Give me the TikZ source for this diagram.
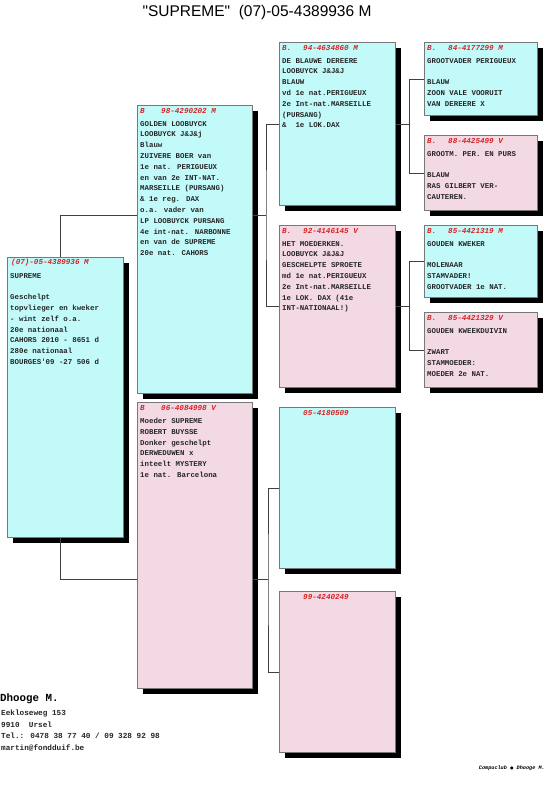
\documentclass[tikz,border=0pt]{standalone}
\usepackage{fontspec}
\usetikzlibrary{shadows}
\newfontfamily\monof{Liberation Mono}
\newfontfamily\sansf{Liberation Sans}
\newfontfamily\djv{DejaVu Sans}
\definecolor{cyanfill}{RGB}{194,250,250}
\definecolor{pinkfill}{RGB}{243,217,228}
\definecolor{hdrred}{RGB}{215,35,35}
\definecolor{bordergray}{RGB}{120,120,120}
\tikzset{
  pbox/.style={draw=bordergray, line width=0.8pt, anchor=north west, inner sep=0pt,
    drop shadow={shadow xshift=6pt, shadow yshift=-6pt, fill=black, opacity=1}},
  cbox/.style={pbox, fill=cyanfill},
  kbox/.style={pbox, fill=pinkfill},
  hdr/.style={anchor=west, inner sep=0pt, text=hdrred,
    font=\monof\bfseries\itshape\fontsize{7.6}{9}\selectfont},
  body/.style={anchor=north west, align=left, inner sep=0pt, text=black!85,
    font=\monof\bfseries\fontsize{7.4}{10.8}\selectfont},
  conn/.style={draw=black!75, line width=0.7pt},
}
\newcommand\bmark[1]{\makebox[21pt][l]{#1}}
\begin{document}
\begin{tikzpicture}[x=1pt,y=-1pt]
\useasboundingbox (0,0) rectangle (547,786);
\fill[white] (0,0) rectangle (547,786);

% title
\node[font=\sansf\fontsize{15.5}{18}\selectfont, inner sep=0pt] (title) at (257,12) {"SUPREME"\ \ (07)-05-4389936 M};

% boxes
\node[cbox, minimum width=116pt, minimum height=280pt] (root) at (7,257) {};
\node[cbox, minimum width=115pt, minimum height=288pt] (b98) at (137,105) {};
\node[kbox, minimum width=115pt, minimum height=286pt] (b06) at (137,402) {};
\node[cbox, minimum width=116pt, minimum height=163pt] (b94) at (279,42) {};
\node[kbox, minimum width=116pt, minimum height=162pt] (b92) at (279,225) {};
\node[cbox, minimum width=116pt, minimum height=161pt] (b05) at (279,407) {};
\node[kbox, minimum width=116pt, minimum height=161pt] (b99) at (279,591) {};
\node[cbox, minimum width=113pt, minimum height=73pt] (b84) at (424,42) {};
\node[kbox, minimum width=113pt, minimum height=75pt] (b88) at (424,135) {};
\node[cbox, minimum width=113pt, minimum height=72pt] (b85a) at (424,225) {};
\node[kbox, minimum width=113pt, minimum height=75pt] (b85b) at (424,312) {};

% connectors
\coordinate (j1) at (60,215);
\coordinate (j2) at (60,579);
\coordinate (j3) at (266,215);
\coordinate (j4) at (268,579);
\coordinate (j5) at ([xshift=14pt]b94.east);
\coordinate (j6) at ([xshift=14pt]b92.east);
\draw[conn] (root.north -| j1) |- (b98.west |- j1);
\draw[conn] (root.south -| j2) |- (b06.west |- j2);
\draw[conn] (b98.east |- j3) -- (j3);
\draw[conn] (b94.west) -| (j3) |- (b92.west);
\draw[conn] (b06.east |- j4) -- (j4);
\draw[conn] (b05.west) -| (j4) |- (b99.west);
\draw[conn] (b94.east) -- (j5);
\draw[conn] (b84.west) -| (j5) |- (b88.west);
\draw[conn] (b92.east) -- (j6);
\draw[conn] (b85a.west) -| (j6) |- (b85b.west);

% headers
\node[hdr] (hroot) at ([xshift=4pt,yshift=-6pt]root.north west) {(07)-05-4389936 M};
\node[hdr] (h98) at ([xshift=3pt,yshift=-6pt]b98.north west) {\bmark{B}98-4290202 M};
\node[hdr] (h06) at ([xshift=3pt,yshift=-6pt]b06.north west) {\bmark{B}06-4084998 V};
\node[hdr] (h94) at ([xshift=3pt,yshift=-6pt]b94.north west) {\bmark{B.}94-4634860 M};
\node[hdr] (h92) at ([xshift=3pt,yshift=-6pt]b92.north west) {\bmark{B.}92-4146145 V};
\node[hdr] (h05) at ([xshift=3pt,yshift=-6pt]b05.north west) {\bmark{}05-4180509};
\node[hdr] (h99) at ([xshift=3pt,yshift=-6pt]b99.north west) {\bmark{}99-4240249};
\node[hdr] (h84) at ([xshift=3pt,yshift=-6pt]b84.north west) {\bmark{B.}84-4177299 M};
\node[hdr] (h88) at ([xshift=3pt,yshift=-6pt]b88.north west) {\bmark{B.}88-4425499 V};
\node[hdr] (h85a) at ([xshift=3pt,yshift=-6pt]b85a.north west) {\bmark{B.}85-4421319 M};
\node[hdr] (h85b) at ([xshift=3pt,yshift=-6pt]b85b.north west) {\bmark{B.}85-4421329 V};

% bodies
\node[body] (troot) at ([xshift=3pt,yshift=-16pt]root.north west) {SUPREME\\[10.8pt]Geschelpt\\topvlieger en kweker\\- wint zelf o.a.\\20e nationaal\\CAHORS 2010 - 8651 d\\280e nationaal\\BOURGES'09 -27 506 d};
\node[body] (t98) at ([xshift=3pt,yshift=-16pt]b98.north west) {GOLDEN LOOBUYCK\\LOOBUYCK J\&J\&j\\Blauw\\ZUIVERE BOER van\\1e nat. PERIGUEUX\\en van 2e INT-NAT.\\MARSEILLE (PURSANG)\\\& 1e reg. DAX\\o.a. vader van\\LP LOOBUYCK PURSANG\\4e int-nat. NARBONNE\\en van de SUPREME\\20e nat. CAHORS};
\node[body] (t06) at ([xshift=3pt,yshift=-16pt]b06.north west) {Moeder SUPREME\\ROBERT BUYSSE\\Donker geschelpt\\DERWEDUWEN x\\inteelt MYSTERY\\1e nat. Barcelona};
\node[body] (t94) at ([xshift=3pt,yshift=-16pt]b94.north west) {DE BLAUWE DEREERE\\LOOBUYCK J\&J\&J\\BLAUW\\vd 1e nat.PERIGUEUX\\2e Int-nat.MARSEILLE\\(PURSANG)\\\&~~1e LOK.DAX};
\node[body] (t92) at ([xshift=3pt,yshift=-16pt]b92.north west) {HET MOEDERKEN.\\LOOBUYCK J\&J\&J\\GESCHELPTE SPROETE\\md 1e nat.PERIGUEUX\\2e Int-nat.MARSEILLE\\1e LOK. DAX (41e\\INT-NATIONAAL!)};
\node[body] (t84) at ([xshift=3pt,yshift=-16pt]b84.north west) {GROOTVADER PERIGUEUX\\[10.8pt]BLAUW\\ZOON VALE VOORUIT\\VAN DEREERE X};
\node[body] (t88) at ([xshift=3pt,yshift=-16pt]b88.north west) {GROOTM. PER. EN PURS\\[10.8pt]BLAUW\\RAS GILBERT VER-\\CAUTEREN.};
\node[body] (t85a) at ([xshift=3pt,yshift=-16pt]b85a.north west) {GOUDEN KWEKER\\[10.8pt]MOLENAAR\\STAMVADER!\\GROOTVADER 1e NAT.};
\node[body] (t85b) at ([xshift=3pt,yshift=-16pt]b85b.north west) {GOUDEN KWEEKDUIVIN\\[10.8pt]ZWART\\STAMMOEDER:\\MOEDER 2e NAT.};

% footer
\node[anchor=west, inner sep=0pt, font=\monof\bfseries\fontsize{10.8}{12}\selectfont] (owner) at (0,699) {Dhooge M.};
\node[body, font=\monof\bfseries\fontsize{7.7}{11.6}\selectfont] (addr) at (1,710) {Eekloseweg 153\\9910~~Ursel\\Tel.: 0478 38 77 40 / 09 328 92 98\\martin@fondduif.be};
\node[anchor=east, inner sep=0pt, font=\monof\bfseries\itshape\fontsize{5.2}{6}\selectfont] (credit) at (545,768) {Compuclub {\djv\fontsize{4}{5}\selectfont ●} Dhooge M.};
\end{tikzpicture}
\end{document}
